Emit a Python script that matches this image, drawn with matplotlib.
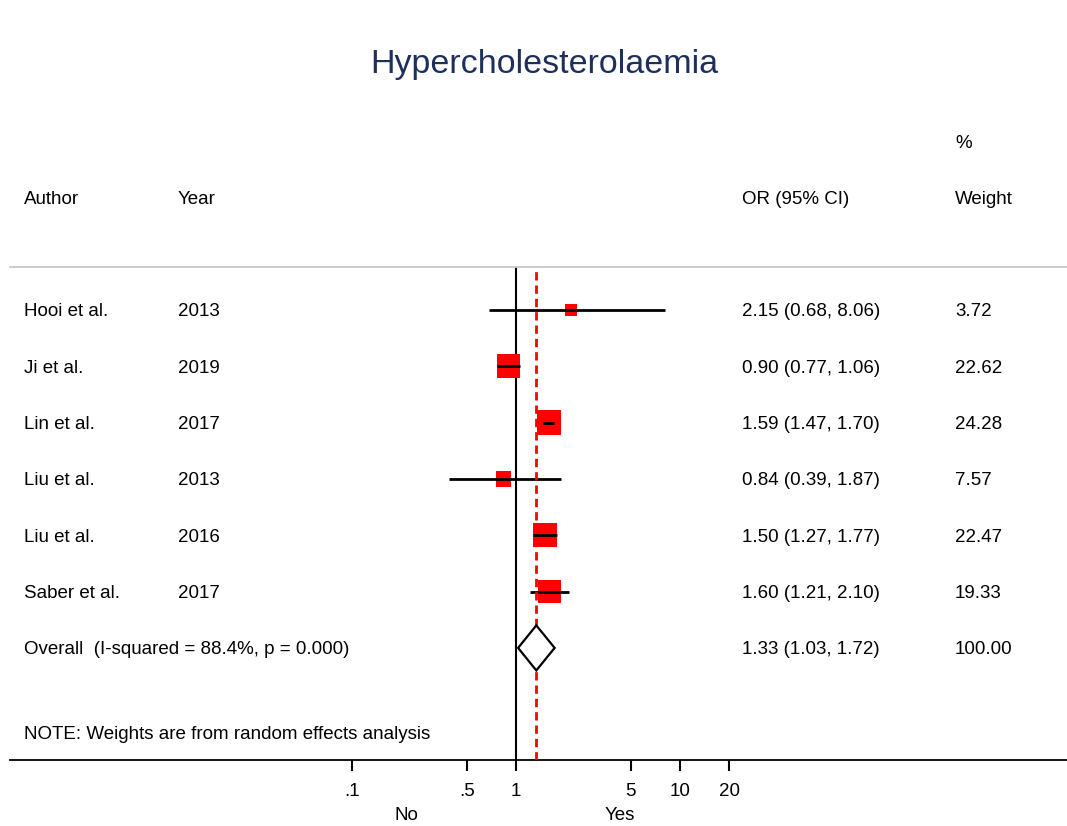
import matplotlib
matplotlib.use("Agg")
import matplotlib.pyplot as plt
import matplotlib.transforms as mtransforms
from matplotlib.patches import Polygon
import numpy as np

plt.rcParams['font.family'] = ['Liberation Sans', 'DejaVu Sans']

# ---- data ----
authors = ["Hooi et al.", "Ji et al.", "Lin et al.", "Liu et al.", "Liu et al.", "Saber et al."]
years = ["2013", "2019", "2017", "2013", "2016", "2017"]
or_vals = [2.15, 0.90, 1.59, 0.84, 1.50, 1.60]
ci_low = [0.68, 0.77, 1.47, 0.39, 1.27, 1.21]
ci_high = [8.06, 1.06, 1.70, 1.87, 1.77, 2.10]
weights = [3.72, 22.62, 24.28, 7.57, 22.47, 19.33]
overall_or = 1.33
overall_low = 1.03
overall_high = 1.72
overall_weight = 100.00
overall_label = "Overall  (I-squared = 88.4%, p = 0.000)"
note = "NOTE: Weights are from random effects analysis"
tick_vals = [0.1, 0.5, 1, 5, 10, 20]
tick_labels = [".1", ".5", "1", "5", "10", "20"]
title = "Hypercholesterolaemia"

W, H = 1067, 826
fig = plt.figure(figsize=(W / 100, H / 100), dpi=100)
ax = fig.add_axes([10 / W, 1 - 760 / H, 1 - 10 / W, (760 - 267) / H])

dec = 164.0
xl = 10 ** ((10 - 516) / dec)
xr = 10 ** ((1067 - 516) / dec)
ax.set_xscale('log')
ax.set_xlim(xl, xr)
ax.set_ylim(8.99, 0.237)

fs = 13.5
va = 'center_baseline'

for s in ['left', 'right']:
    ax.spines[s].set_visible(False)
ax.spines['top'].set_color('#c8c8c8')
ax.spines['top'].set_linewidth(1.3)
ax.spines['bottom'].set_color('black')
ax.spines['bottom'].set_linewidth(1.3)
ax.set_yticks([])
ax.set_xticks(tick_vals)
ax.set_xticklabels(tick_labels, fontsize=fs)
ax.xaxis.set_minor_locator(matplotlib.ticker.NullLocator())
ax.tick_params(axis='x', length=8, width=1.5, pad=8.5)

rows = np.arange(1, len(authors) + 1)

# reference lines
ax.axvline(1, color='black', lw=1.5, zorder=2)
ax.axvline(overall_or, color='red', lw=2.0, linestyle=(0, (3.0, 1.8)), zorder=5)

# boxes
side_px = 4.24 * np.sqrt(np.array(weights)) + 3.8
sizes = (side_px / (100 / 72)) ** 2
ax.scatter(or_vals, rows, s=sizes, marker='s', color='red', linewidths=0, zorder=3)

# CI lines
ax.hlines(rows, ci_low, ci_high, color='black', lw=2.0, zorder=4)

# overall diamond
yo = len(authors) + 1
hh = 0.4
diamond = Polygon([[overall_low, yo], [overall_or, yo - hh], [overall_high, yo], [overall_or, yo + hh]],
                  closed=True, facecolor='white', edgecolor='black', lw=1.6, zorder=6)
ax.add_patch(diamond)

trans = mtransforms.blended_transform_factory(fig.transFigure, ax.transData)
x_author, x_year, x_or, x_w = 24 / W, 178 / W, 742 / W, 955 / W

ax.text(x_author, -1, "Author", transform=trans, fontsize=fs, va=va, ha='left', clip_on=False)
ax.text(x_year, -1, "Year", transform=trans, fontsize=fs, va=va, ha='left', clip_on=False)
ax.text(x_or, -1, "OR (95% CI)", transform=trans, fontsize=fs, va=va, ha='left', clip_on=False)
ax.text(x_w, -1, "Weight", transform=trans, fontsize=fs, va=va, ha='left', clip_on=False)
ax.text(x_w, -2, "%", transform=trans, fontsize=fs, va=va, ha='left', clip_on=False)

for i, r in enumerate(rows):
    ax.text(x_author, r, authors[i], transform=trans, fontsize=fs, va=va, ha='left')
    ax.text(x_year, r, years[i], transform=trans, fontsize=fs, va=va, ha='left')
    ax.text(x_or, r, f"{or_vals[i]:.2f} ({ci_low[i]:.2f}, {ci_high[i]:.2f})", transform=trans,
            fontsize=fs, va=va, ha='left')
    ax.text(x_w, r, f"{weights[i]:.2f}", transform=trans, fontsize=fs, va=va, ha='left')

ax.text(x_author, yo, overall_label, transform=trans, fontsize=fs, va=va, ha='left')
ax.text(x_or, yo, f"{overall_or:.2f} ({overall_low:.2f}, {overall_high:.2f})", transform=trans,
        fontsize=fs, va=va, ha='left')
ax.text(x_w, yo, f"{overall_weight:.2f}", transform=trans, fontsize=fs, va=va, ha='left')
ax.text(x_author, yo + 1.51, note, transform=trans, fontsize=fs, va=va, ha='left')

# favours labels
tx = mtransforms.blended_transform_factory(ax.transData, fig.transFigure)
ax.text(0.216, 1 - 814 / H, "No", transform=tx, fontsize=fs, ha='center', va=va, clip_on=False)
ax.text(4.3, 1 - 814 / H, "Yes", transform=tx, fontsize=fs, ha='center', va=va, clip_on=False)

fig.text(544 / W, 1 - 61 / H, title, fontsize=24.5, color='#1f2f5c', ha='center', va=va)

fig.savefig("out.png", dpi=100, facecolor='white')
